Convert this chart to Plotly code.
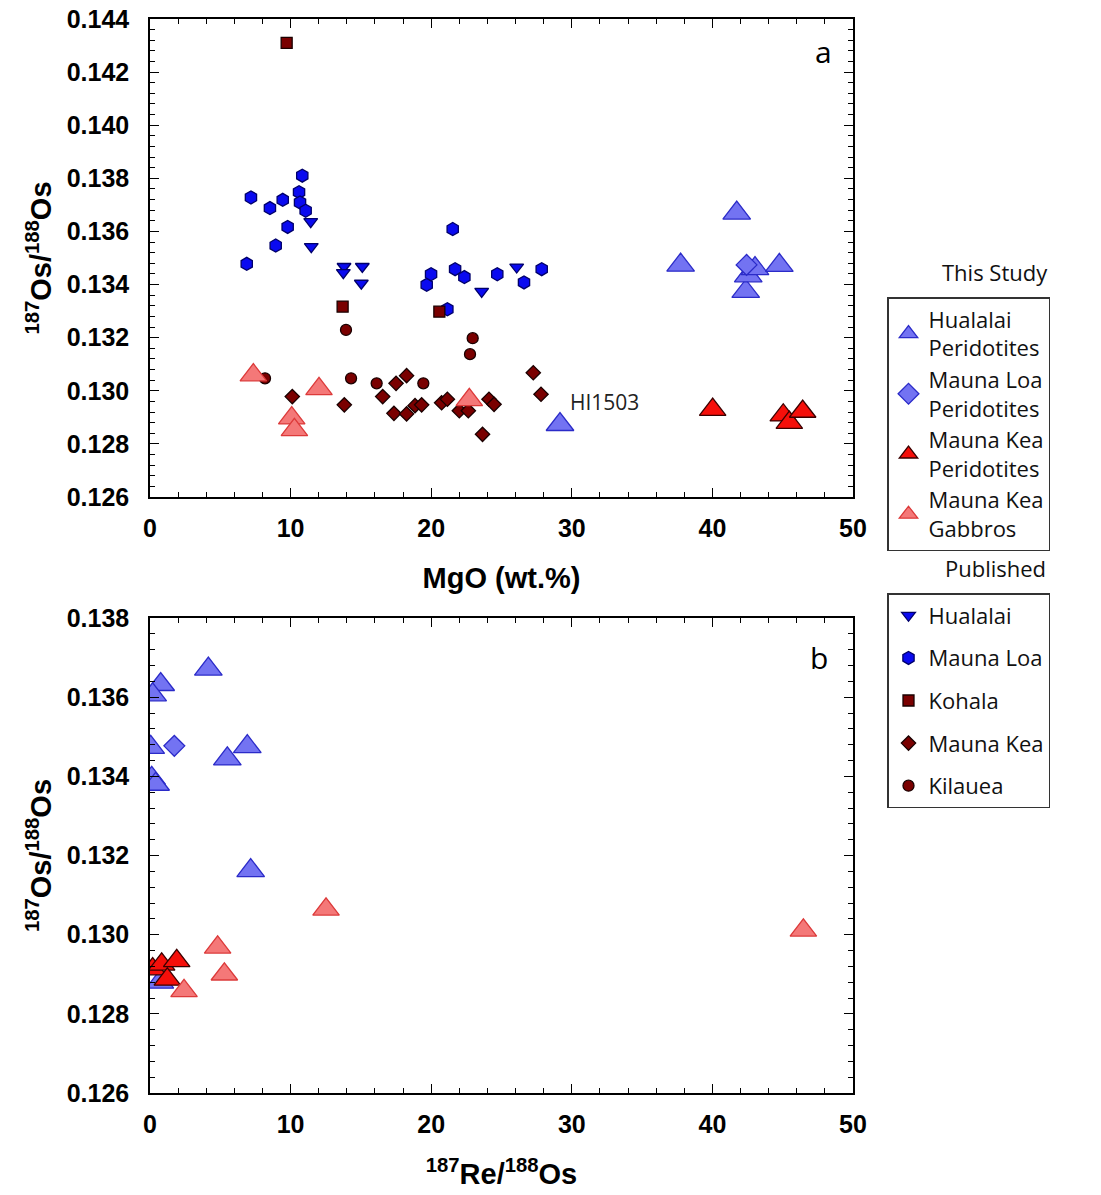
import plotly.graph_objects as go

# ---------------- Panel a: MgO vs 187Os/188Os ----------------
# Published data
pub_hualalai_mgo = [11.43, 11.47, 13.8, 13.75, 15.1, 15.03, 23.59, 26.08]
pub_hualalai_os = [0.13637, 0.13543, 0.13468, 0.13445, 0.13468, 0.13405, 0.13374, 0.13466]

pub_maunaloa_mgo = [6.88, 7.18, 8.53, 8.94, 9.44, 9.79, 10.6, 10.67, 10.83, 11.07,
                    19.68, 19.99, 21.15, 21.53, 21.7, 22.36, 24.7, 26.6, 27.86]
pub_maunaloa_os = [0.13478, 0.13728, 0.13688, 0.13547, 0.13719, 0.13617, 0.13748, 0.13709, 0.13810, 0.13678,
                   0.13399, 0.13439, 0.13307, 0.13609, 0.13458, 0.13428, 0.13439, 0.13408, 0.13458]

pub_kohala_mgo = [9.72, 13.7, 20.58]
pub_kohala_os = [0.14310, 0.13317, 0.13298]

pub_maunakea_mgo = [10.12, 13.82, 16.55, 17.5, 18.25, 17.35, 18.25, 18.85, 19.32, 20.74,
                    21.15, 22.0, 22.64, 24.11, 24.47, 23.65, 27.26, 27.81]
pub_maunakea_os = [0.12978, 0.12947, 0.12978, 0.13028, 0.13057, 0.12915, 0.12913, 0.12944, 0.12947, 0.12955,
                   0.12968, 0.12925, 0.12925, 0.12968, 0.12949, 0.12836, 0.13068, 0.12987]

pub_kilauea_mgo = [8.18, 13.94, 14.3, 16.12, 19.44, 22.95, 22.76]
pub_kilauea_os = [0.13047, 0.13229, 0.13047, 0.13028, 0.13028, 0.13198, 0.13138]

# This study (panel a)
hp_mgo = [29.16, 37.74, 41.73, 42.37, 42.55, 43.03, 44.76]
hp_os_a = [0.12873, 0.13473, 0.13669, 0.13374, 0.13433, 0.13460, 0.13472]
mlp_mgo = [42.43]
mlp_os_a = [0.13474]
mkp_mgo = [40.02, 45.04, 45.47, 46.42]
mkp_os_a = [0.12929, 0.12908, 0.12880, 0.12922]
mkg_mgo = [7.35, 10.08, 10.27, 12.02, 22.71]
mkg_os_a = [0.13059, 0.12897, 0.12853, 0.13007, 0.12966]

# ---------------- Panel b: 187Re/188Os vs 187Os/188Os ----------------
hp_re = [4.15, 0.76, 0.19, 0.05, 6.92, 5.5, 0.12, 0.4, 7.16, 0.7]
hp_os_b = [0.13671, 0.13632, 0.13606, 0.13473, 0.13475, 0.13444, 0.13395, 0.13380, 0.13162, 0.12880]
mlp_re = [1.73]
mlp_os_b = [0.13477]
mkp_re = [0.19, 0.83, 1.9, 1.23]
mkp_os_b = [0.12913, 0.12925, 0.12934, 0.12887]
mkg_re = [12.52, 4.81, 5.29, 2.42, 46.47]
mkg_os_b = [0.13064, 0.12968, 0.12900, 0.12858, 0.13011]

# Styles
BLUE_LIGHT = "#7373f2"
BLUE_LIGHT_LINE = "#2b2bc8"
RED = "#f50f0a"
RED_LINE = "#3a0000"
SALMON = "#f47878"
SALMON_LINE = "#dc3a3a"
PUB_BLUE = "#0a0af0"
PUB_BLUE_LINE = "#00006a"
PUB_RED = "#7a0000"
PUB_RED_LINE = "#1a0000"

fig = go.Figure()

def add(x, y, name, symbol, size, fill, line, xa, ya, legend, show, group):
    fig.add_trace(go.Scatter(
        x=x, y=y, mode="markers", name=name, xaxis=xa, yaxis=ya,
        legend=legend, showlegend=show, legendgroup=group,
        marker=dict(symbol=symbol, size=size, color=fill,
                    line=dict(color=line, width=1.3)),
    ))

# published (panel a only)
add(pub_hualalai_mgo, pub_hualalai_os, "Hualalai", "triangle-down", 12, PUB_BLUE, PUB_BLUE_LINE, "x", "y", "legend2", True, "p1")
add(pub_maunaloa_mgo, pub_maunaloa_os, "Mauna Loa", "hexagon", 13, PUB_BLUE, PUB_BLUE_LINE, "x", "y", "legend2", True, "p2")
add(pub_kohala_mgo, pub_kohala_os, "Kohala", "square", 11, PUB_RED, PUB_RED_LINE, "x", "y", "legend2", True, "p3")
add(pub_maunakea_mgo, pub_maunakea_os, "Mauna Kea", "diamond", 11, PUB_RED, PUB_RED_LINE, "x", "y", "legend2", True, "p4")
add(pub_kilauea_mgo, pub_kilauea_os, "Kilauea", "circle", 11, PUB_RED, PUB_RED_LINE, "x", "y", "legend2", True, "p5")

# this study
ts = [
    ("Hualalai<br>Peridotites", "triangle-up", 24, BLUE_LIGHT, BLUE_LIGHT_LINE, hp_mgo, hp_os_a, hp_re, hp_os_b, "s1"),
    ("Mauna Loa<br>Peridotites", "diamond", 16, BLUE_LIGHT, BLUE_LIGHT_LINE, mlp_mgo, mlp_os_a, mlp_re, mlp_os_b, "s2"),
    ("Mauna Kea<br>Peridotites", "triangle-up", 23, RED, RED_LINE, mkp_mgo, mkp_os_a, mkp_re, mkp_os_b, "s3"),
    ("Mauna Kea<br>Gabbros", "triangle-up", 23, SALMON, SALMON_LINE, mkg_mgo, mkg_os_a, mkg_re, mkg_os_b, "s4"),
]
for name, sym, sz, fc, lc, xa_, ya_, xb_, yb_, g in ts:
    add(xa_, ya_, name, sym, sz, fc, lc, "x", "y", "legend", True, g)
for name, sym, sz, fc, lc, xa_, ya_, xb_, yb_, g in ts:
    add(xb_, yb_, name, sym, sz, fc, lc, "x2", "y2", "legend", False, g)

# page body has an 8px margin: figure is drawn at (8, 8)
OFF = 8
W, H = 1101 - OFF, 1195 - OFF

def fx(p):
    return (p - OFF) / W

def fy(p):
    return 1 - (p - OFF) / H

dom_x = [fx(150), fx(853)]
dom_ya = [fy(497), fy(19)]
dom_yb = [fy(1093), fy(618)]

tickfont = dict(family="Liberation Sans, Arial, sans-serif", size=25, color="black", weight="bold")
titlefont = dict(family="Liberation Sans, Arial, sans-serif", size=29, color="black", weight="bold")
legfont = dict(family="Open Sans, sans-serif", size=22, color="#111111")

common = dict(
    showline=True, linecolor="black", linewidth=1.6, mirror="ticks",
    ticks="inside", ticklen=9, tickwidth=1.4, tickcolor="black",
    showgrid=False, zeroline=False, tickfont=tickfont, automargin=False,
    ticklabeloverflow="allow",
    minor=dict(ticks="inside", ticklen=5, tickwidth=1.2, tickcolor="black", showgrid=False),
)

fig.update_layout(
    template="none",
    width=W, height=H,
    margin=dict(l=0, r=0, t=0, b=0, pad=0),
    paper_bgcolor="white", plot_bgcolor="white",
    xaxis=dict(domain=dom_x, anchor="y", range=[0, 50], dtick=10,
               title=dict(text="MgO (wt.%)", font=titlefont, standoff=27),
               ticklabelstandoff=8, **{**common, "minor": {**common["minor"], "dtick": 2}}),
    yaxis=dict(domain=dom_ya, anchor="x", range=[0.126, 0.144], dtick=0.002, tickformat=".3f",
               title=dict(text="<sup>187</sup>Os/<sup>188</sup>Os", font=titlefont, standoff=6),
               ticklabelstandoff=14, **{**common, "minor": {**common["minor"], "dtick": 0.0004}}),
    xaxis2=dict(domain=dom_x, anchor="y2", range=[0, 50], dtick=10,
                title=dict(text="<sup>187</sup>Re/<sup>188</sup>Os", font=titlefont, standoff=27),
                ticklabelstandoff=8, **{**common, "minor": {**common["minor"], "dtick": 2}}),
    yaxis2=dict(domain=dom_yb, anchor="x2", range=[0.126, 0.138], dtick=0.002, tickformat=".3f",
                title=dict(text="<sup>187</sup>Os/<sup>188</sup>Os", font=titlefont, standoff=6),
                ticklabelstandoff=14, **{**common, "minor": {**common["minor"], "dtick": 0.0004}}),
    legend=dict(x=fx(887), y=fy(297), xanchor="left", yanchor="top",
                bgcolor="white", bordercolor="#333333", borderwidth=1.5,
                font=legfont, tracegroupgap=0, itemsizing="trace"),
    legend2=dict(x=fx(887), y=fy(593), xanchor="left", yanchor="top",
                 bgcolor="white", bordercolor="#333333", borderwidth=1.5,
                 font=legfont, tracegroupgap=11, itemsizing="trace"),
    annotations=[
        dict(text="This Study", x=fx(995), y=fy(272), xref="paper", yref="paper",
             xanchor="center", yanchor="middle", showarrow=False, font=legfont),
        dict(text="Published", x=fx(995), y=fy(568), xref="paper", yref="paper",
             xanchor="center", yanchor="middle", showarrow=False, font=legfont),
        dict(text="a", x=47.9, y=0.14277, xref="x", yref="y", showarrow=False,
             xanchor="center", yanchor="middle",
             font=dict(family="Open Sans, sans-serif", size=30, color="black")),
        dict(text="b", x=47.6, y=0.13699, xref="x2", yref="y2", showarrow=False,
             xanchor="center", yanchor="middle",
             font=dict(family="Open Sans, sans-serif", size=30, color="black")),
        dict(text="HI1503", x=29.7, y=0.12959, xref="x", yref="y", xanchor="left", yanchor="middle",
             showarrow=False, font=dict(family="Open Sans, sans-serif", size=21, color="#222222")),
    ],
)

fig.write_html("out.html")
